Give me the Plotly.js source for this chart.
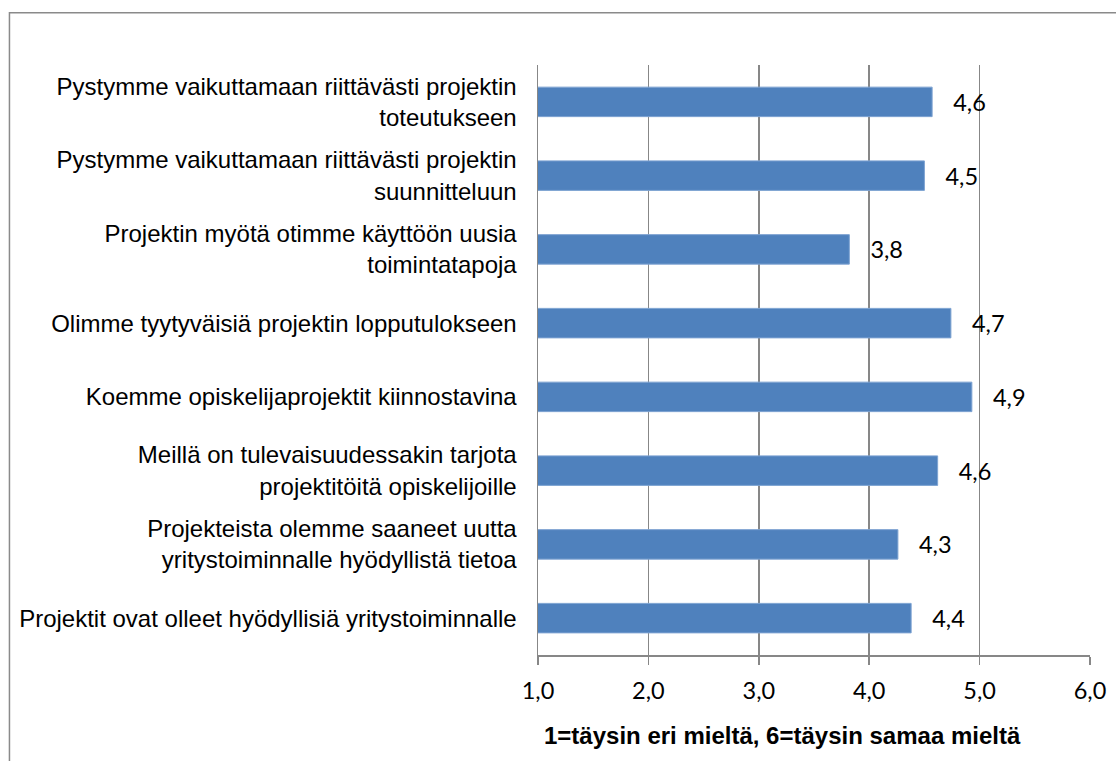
<!DOCTYPE html>
<html>
<head>
<meta charset="utf-8">
<script src="https://cdn.plot.ly/plotly-3.0.1.min.js"></script>
<style>
html,body{margin:0;padding:0;background:#fff;}
#chart{width:1116px;height:761px;}
</style>
</head>
<body>
<div id="chart"></div>
<script>
const categories = [
  "Pystymme vaikuttamaan riittävästi projektin<br>toteutukseen",
  "Pystymme vaikuttamaan riittävästi projektin<br>suunnitteluun",
  "Projektin myötä otimme käyttöön uusia<br>toimintatapoja",
  "Olimme tyytyväisiä projektin lopputulokseen",
  "Koemme opiskelijaprojektit kiinnostavina",
  "Meillä on tulevaisuudessakin tarjota<br>projektitöitä opiskelijoille",
  "Projekteista olemme saaneet uutta<br>yritystoiminnalle hyödyllistä tietoa",
  "Projektit ovat olleet hyödyllisiä yritystoiminnalle"
];
const values = [4.57, 4.50, 3.82, 4.74, 4.93, 4.62, 4.26, 4.38];
const xTickValues = [1, 2, 3, 4, 5, 6];
const axisTitle = "1=täysin eri mieltä, 6=täysin samaa mieltä";

const n = categories.length;
const boundaryTicks = Array.from({length: n + 1}, (_, i) => i - 0.5);

const gray = "#878787";
const trace = {
  type: "bar",
  orientation: "h",
  y: categories,
  x: values,
  marker: {color: "#4F81BD", line: {color: "#7EA3D2", width: 1}},
  width: 0.4,
  texttemplate: "\u00a0\u00a0\u00a0%{x:.1f}",
  textposition: "outside",
  constraintext: "none",
  textfont: {family: "Lato, 'Open Sans', sans-serif", size: 23.5, color: "#000"},
  hoverinfo: "skip"
};

const layout = {
  width: 1116,
  height: 761,
  margin: {l: 537.5, r: 25.5, t: 65, b: 106, pad: 0},
  paper_bgcolor: "#fff",
  plot_bgcolor: "#fff",
  separators: ", ",
  showlegend: false,
  xaxis: {
    range: [1, 6],
    tickvals: xTickValues,
    tickformat: ".1f",
    showgrid: true,
    gridcolor: gray,
    gridwidth: 1.5,
    zeroline: false,
    showline: true,
    linecolor: gray,
    linewidth: 1.5,
    ticks: "outside",
    ticklen: 8,
    tickwidth: 1.5,
    tickcolor: gray,
    tickfont: {family: "Lato, 'Open Sans', sans-serif", size: 23.5, color: "#000"},
    ticklabelstandoff: 6,
    fixedrange: true
  },
  yaxis: {
    type: "category",
    range: [n - 0.5, -0.5],
    showgrid: false,
    zeroline: false,
    showline: true,
    linecolor: gray,
    linewidth: 1.5,
    ticks: "",
    ticklabelstandoff: 15,
    tickfont: {family: "'Liberation Sans', Arial, sans-serif", size: 24, color: "#000"},
    fixedrange: true
  },
  yaxis2: {
    overlaying: "y",
    anchor: "x",
    side: "left",
    range: [n - 0.5, -0.5],
    tickvals: boundaryTicks,
    showticklabels: false,
    ticks: "outside",
    ticklen: 8,
    tickwidth: 1.5,
    tickcolor: gray,
    showgrid: false,
    zeroline: false,
    showline: false,
    fixedrange: true
  },
  annotations: [{
    text: "<b>" + axisTitle + "</b>",
    xref: "paper", yref: "paper",
    x: (782 - 537.5) / 553, y: (655 - 735) / 590,
    xanchor: "center", yanchor: "middle",
    showarrow: false,
    font: {family: "'Liberation Sans', Arial, sans-serif", size: 24, color: "#000"}
  }],
  shapes: [{
    type: "rect", xref: "paper", yref: "paper",
    x0: (8 - 537.5) / 553, x1: 1.2,
    y0: -0.5, y1: (655 - 12.7) / 590,
    line: {color: "#8a8a8a", width: 1.5},
    fillcolor: "rgba(0,0,0,0)",
    layer: "below"
  }]
};

Plotly.newPlot("chart", [trace], layout, {displayModeBar: false, staticPlot: true});
</script>
</body>
</html>
